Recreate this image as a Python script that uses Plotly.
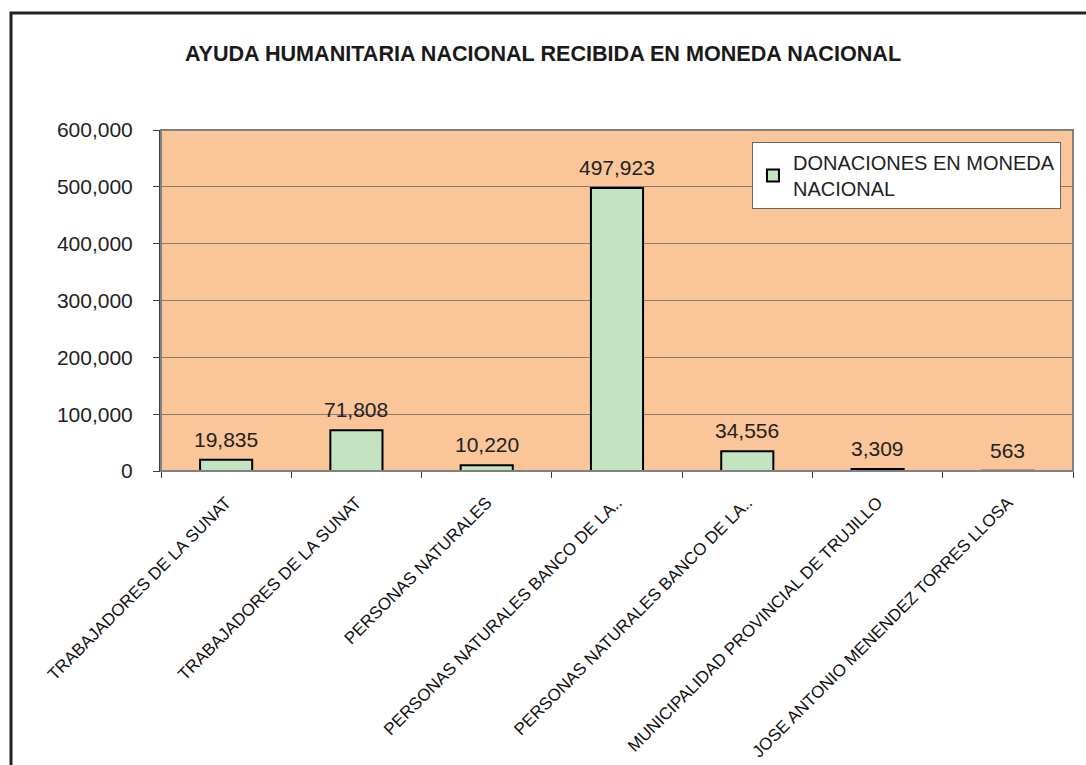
import plotly.graph_objects as go

categories = [
    "TRABAJADORES DE LA SUNAT",
    "TRABAJADORES DE LA SUNAT",
    "PERSONAS NATURALES",
    "PERSONAS NATURALES BANCO DE LA..",
    "PERSONAS NATURALES BANCO DE LA..",
    "MUNICIPALIDAD PROVINCIAL DE TRUJILLO",
    "JOSE ANTONIO MENENDEZ TORRES LLOSA",
]
values = [19835, 71808, 10220, 497923, 34556, 3309, 563]
series_name = "DONACIONES EN MONEDA<br>NACIONAL"
title_text = "AYUDA HUMANITARIA NACIONAL RECIBIDA EN MONEDA NACIONAL"
y_ticks = [0, 100000, 200000, 300000, 400000, 500000, 600000]

positions = list(range(len(categories)))
FONT = "Liberation Sans, Arial, sans-serif"

fig = go.Figure()
fig.add_trace(go.Bar(
    x=positions, y=values, name=series_name,
    marker=dict(color="#C4E3C0", line=dict(color="#000000", width=2)),
    width=0.4, showlegend=True,
))

for p, v in zip(positions, values):
    fig.add_annotation(x=p, y=v, text=f"{v:,}", showarrow=False,
                       yanchor="bottom", yshift=7,
                       font=dict(family=FONT, size=21, color="#222222"))

fig.update_layout(
    width=1086, height=765,
    margin=dict(l=161, r=13, t=130, b=294, autoexpand=False),
    paper_bgcolor="white", plot_bgcolor="#FAC598",
    font=dict(family=FONT, color="#222222"),
    title=dict(text=f"<b>{title_text}</b>", x=0.5, xref="container",
               xanchor="center", y=1 - 53 / 765, yanchor="middle",
               font=dict(family=FONT, size=21.6, color="#1a1a1a")),
    legend=dict(x=0.648, y=0.965, xanchor="left", yanchor="top",
                bgcolor="white", bordercolor="#666666", borderwidth=1,
                font=dict(family=FONT, size=20, color="#222222"),
                itemsizing="constant"),
    xaxis=dict(range=[-0.5, len(categories) - 0.5], tickvals=positions,
               ticktext=categories, tickangle=-45, ticks="",
               ticklabelstandoff=14, automargin=False,
               showgrid=False, zeroline=False, showline=True,
               linecolor="#404040", linewidth=1,
               tickfont=dict(family=FONT, size=17, color="#111111"),
               minor=dict(tickvals=[i - 0.5 for i in range(len(categories) + 1)],
                          ticks="outside", ticklen=6, tickcolor="#404040",
                          tickwidth=1, showgrid=False)),
    yaxis=dict(range=[0, 600000], tickvals=y_ticks,
               ticktext=[f"{t:,}" for t in y_ticks],
               showgrid=True, gridcolor="#8a7a6e", gridwidth=1,
               zeroline=False, showline=True, linecolor="#404040", linewidth=2,
               ticks="outside", ticklen=6, tickcolor="#404040",
               ticklabelstandoff=16, automargin=False,
               tickfont=dict(family=FONT, size=21, color="#222222")),
    bargap=0.6,
)

# plot area border (top/right grey)
fig.add_shape(type="rect", xref="paper", yref="paper", x0=0, x1=1, y0=0, y1=1,
              line=dict(color="#808080", width=2), layer="above")
# outer chart border
fig.add_shape(type="rect", xref="paper", yref="paper",
              x0=(11 - 161) / 912, x1=1.1, y0=-1.2, y1=(471 - 13) / 341,
              line=dict(color="#222222", width=3))

fig.write_html("out.html", config={"displayModeBar": False},
               post_script="document.body.style.margin='0px';")
